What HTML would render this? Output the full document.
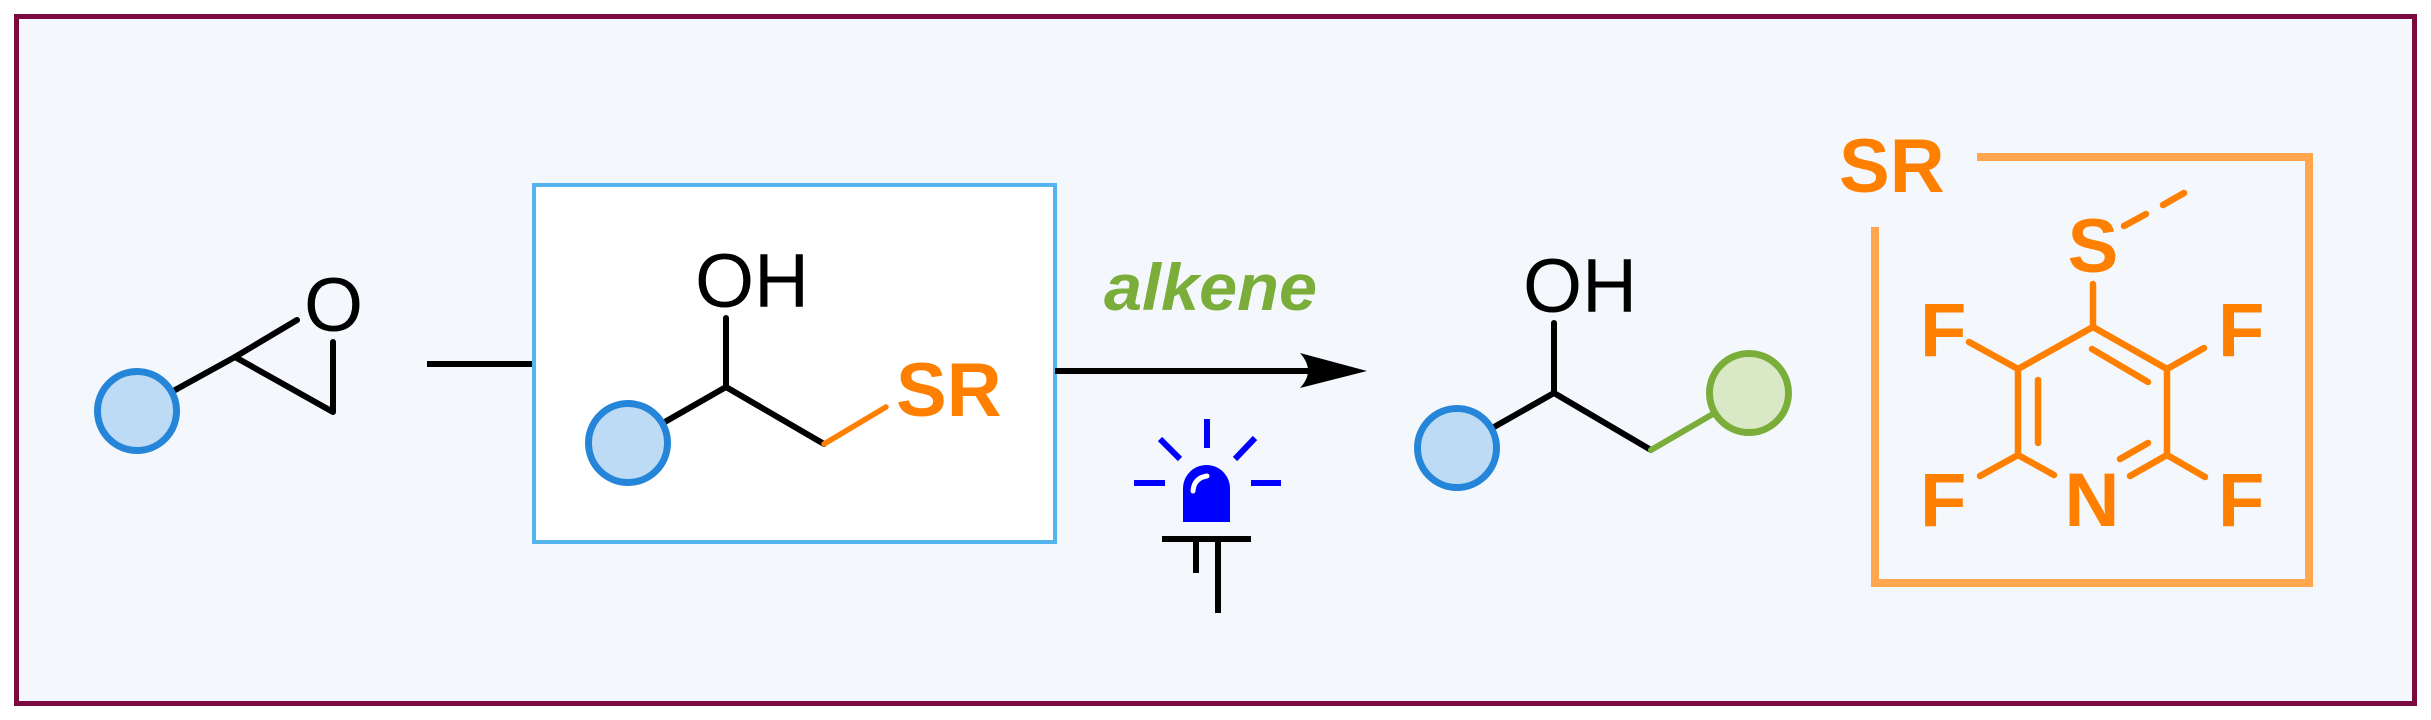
<!DOCTYPE html>
<html>
<head>
<meta charset="utf-8">
<style>
  html, body { margin: 0; padding: 0; background: #ffffff; }
  body { width: 2431px; height: 720px; overflow: hidden; }
  svg { display: block; }
  .reg { font-family: "Liberation Sans", Arial, sans-serif; font-size: 76px; fill: #000; }
  .bold { font-family: "Liberation Sans", Arial, sans-serif; font-size: 76px; font-weight: bold; fill: #ff8000; }
</style>
</head>
<body>
<svg width="2431" height="720" viewBox="0 0 2431 720" xmlns="http://www.w3.org/2000/svg">
  <!-- outer frame -->
  <rect x="0" y="0" width="2431" height="720" fill="#ffffff"/>
  <rect x="16.5" y="16.5" width="2398" height="687" fill="#f4f8fc" stroke="#7b0a3e" stroke-width="5"/>

  <!-- ===== Epoxide ===== -->
  <g stroke="#000" stroke-width="6" fill="none" stroke-linecap="round" stroke-linejoin="round">
    <line x1="137" y1="411" x2="235" y2="357"/>
    <polyline points="297,320 235,357 333,412 333,342"/>
  </g>
  <circle cx="137" cy="411" r="39.5" fill="#bddbf5" stroke="#2585d8" stroke-width="7"/>
  <text class="reg" x="333.5" y="331" text-anchor="middle">O</text>

  <!-- connector to box -->
  <line x1="427" y1="364" x2="536" y2="364" stroke="#000" stroke-width="6"/>

  <!-- ===== Boxed intermediate ===== -->
  <rect x="534" y="185" width="521" height="357" fill="#ffffff" stroke="#55b4ee" stroke-width="4"/>
  <g stroke="#000" stroke-width="6" fill="none" stroke-linecap="round" stroke-linejoin="round">
    <line x1="628" y1="443" x2="726" y2="387"/>
    <line x1="726" y1="387" x2="726" y2="318"/>
    <line x1="726" y1="387" x2="824" y2="444"/>
  </g>
  <line x1="824" y1="444" x2="886" y2="407" stroke="#ff8000" stroke-width="5.5" stroke-linecap="round"/>
  <circle cx="628" cy="443" r="39.5" fill="#bddbf5" stroke="#2585d8" stroke-width="7"/>
  <text class="reg" x="695" y="307">OH</text>
  <text class="bold" x="896" y="416">SR</text>

  <!-- ===== Arrow ===== -->
  <line x1="1055" y1="371" x2="1312" y2="371" stroke="#000" stroke-width="6"/>
  <path d="M1300,353 Q1316,371 1300,388 L1367,371 Z" fill="#000"/>
  <text x="1104" y="310" font-family="Liberation Sans, Arial, sans-serif" font-size="66" font-weight="bold" font-style="italic" fill="#7aad3a" textLength="213" lengthAdjust="spacingAndGlyphs">alkene</text>

  <!-- ===== Lamp ===== -->
  <g stroke="#0000ff" stroke-width="6" fill="none">
    <line x1="1207" y1="419" x2="1207" y2="448"/>
    <line x1="1160" y1="439" x2="1180" y2="459"/>
    <line x1="1255" y1="438" x2="1235" y2="459"/>
    <line x1="1134" y1="483" x2="1165" y2="483"/>
    <line x1="1251" y1="483" x2="1281" y2="483"/>
  </g>
  <path d="M1183,522 L1183,488.5 A23.5,23.5 0 0 1 1230,488.5 L1230,522 Z" fill="#0000ff"/>
  <path d="M1193,491 Q1194,478 1207,476" stroke="#ffffff" stroke-width="5" fill="none" stroke-linecap="round"/>
  <rect x="1162" y="536" width="89" height="6" fill="#000"/>
  <rect x="1193" y="542" width="6" height="31" fill="#000"/>
  <rect x="1215" y="542" width="6" height="71" fill="#000"/>

  <!-- ===== Product ===== -->
  <g stroke="#000" stroke-width="6" fill="none" stroke-linecap="round" stroke-linejoin="round">
    <line x1="1457" y1="448" x2="1554" y2="393"/>
    <line x1="1554" y1="393" x2="1554" y2="323"/>
    <line x1="1554" y1="393" x2="1651" y2="450"/>
  </g>
  <line x1="1651" y1="450" x2="1749" y2="393" stroke="#7aad3a" stroke-width="6" stroke-linecap="round"/>
  <circle cx="1457" cy="448" r="39.5" fill="#bddbf5" stroke="#2585d8" stroke-width="7"/>
  <circle cx="1749" cy="393" r="39.5" fill="#d9e8c5" stroke="#7aad3a" stroke-width="7"/>
  <text class="reg" x="1523" y="312">OH</text>

  <!-- ===== SR definition bracket ===== -->
  <text class="bold" x="1839" y="192">SR</text>
  <path d="M1977,157 H2309 V583 H1875 V227" fill="none" stroke="#ffa64f" stroke-width="8" stroke-linejoin="miter"/>

  <!-- Pyridine -->
  <g stroke="#ff8000" stroke-width="6.5" fill="none" stroke-linecap="round" stroke-linejoin="round">
    <line x1="2093" y1="284" x2="2093" y2="327"/>
    <polyline points="2054,475 2018,455 2018,369 2093,327 2167,369 2167,455 2130,476"/>
    <line x1="2092" y1="349" x2="2148" y2="382"/>
    <line x1="2038" y1="380" x2="2038" y2="443"/>
    <line x1="2120" y1="459" x2="2148" y2="443"/>
    <line x1="2018" y1="369" x2="1969" y2="342"/>
    <line x1="2167" y1="369" x2="2204" y2="348"/>
    <line x1="2018" y1="455" x2="1980" y2="476"/>
    <line x1="2167" y1="455" x2="2205" y2="477"/>
    <line x1="2124" y1="226" x2="2146" y2="214"/>
    <line x1="2163" y1="205" x2="2184" y2="193"/>
  </g>
  <text class="bold" x="2093" y="272" text-anchor="middle">S</text>
  <text class="bold" x="2092" y="526" text-anchor="middle">N</text>
  <text class="bold" x="1920" y="356">F</text>
  <text class="bold" x="2218" y="356">F</text>
  <text class="bold" x="1920" y="526">F</text>
  <text class="bold" x="2218" y="526">F</text>
</svg>
</body>
</html>
